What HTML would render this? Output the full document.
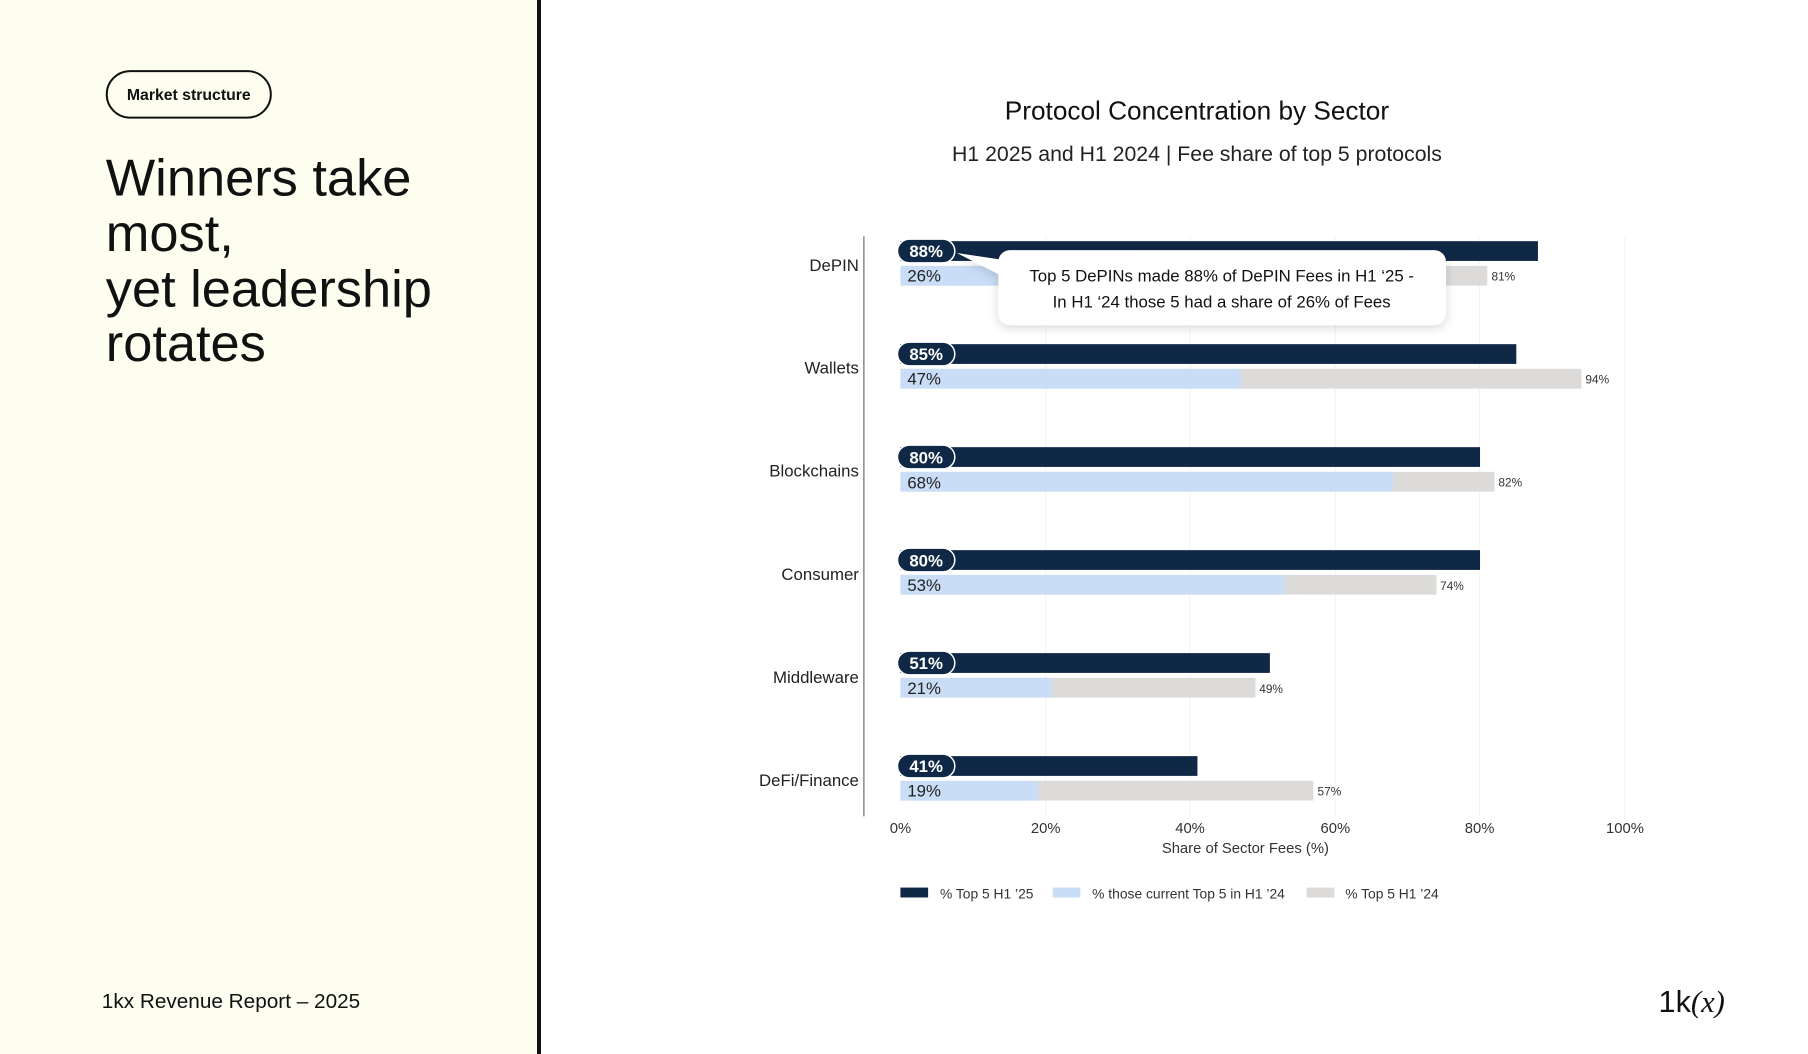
<!DOCTYPE html>
<html><head><meta charset="utf-8"><style>
html,body{margin:0;padding:0;background:#fff}
svg{display:block;font-family:"Liberation Sans",sans-serif}
</style></head><body>
<svg width="1808" height="1054" viewBox="0 0 1808 1054" xmlns="http://www.w3.org/2000/svg">
<defs>
<filter id="sh" x="-10%" y="-30%" width="120%" height="170%"><feDropShadow dx="0" dy="3" stdDeviation="5" flood-color="#000" flood-opacity="0.15"/></filter>
</defs>
<rect x="0" y="0" width="540" height="1054" fill="#fefef0"/>
<rect x="537" y="0" width="4" height="1054" fill="#111"/>
<g transform="scale(0.9884)">
<rect x="108" y="72" width="166" height="47" rx="23.5" fill="none" stroke="#111" stroke-width="2"/>
<text x="191" y="101" font-size="16" font-weight="bold" text-anchor="middle" fill="#111">Market structure</text>
<g font-size="53" fill="#111">
<text x="107" y="198">Winners take</text>
<text x="107" y="254">most,</text>
<text x="107" y="310">yet leadership</text>
<text x="107" y="365">rotates</text>
</g>
<text x="103" y="1020" font-size="21" fill="#111">1kx Revenue Report  – 2025</text>
<text x="1678" y="1024" font-size="31" fill="#111">1k<tspan font-style="italic" font-family="Liberation Serif">(x)</tspan></text>

<text x="1211" y="121" font-size="26.5" text-anchor="middle" fill="#111">Protocol Concentration by Sector</text>
<text x="1211" y="163" font-size="21.5" text-anchor="middle" fill="#222">H1 2025 and H1 2024 | Fee share of top 5 protocols</text>

<g stroke="#f2f2f2" stroke-width="1">
<line x1="1058" y1="239" x2="1058" y2="826"/><line x1="1204" y1="239" x2="1204" y2="826"/>
<line x1="1351" y1="239" x2="1351" y2="826"/><line x1="1497" y1="239" x2="1497" y2="826"/>
<line x1="1644" y1="239" x2="1644" y2="826"/>
</g>
<line x1="874" y1="239" x2="874" y2="826" stroke="#888" stroke-width="1.5"/>

<g font-size="17" text-anchor="end" fill="#222">
<text x="869" y="274">DePIN</text><text x="869" y="378">Wallets</text><text x="869" y="482">Blockchains</text>
<text x="869" y="587">Consumer</text><text x="869" y="691">Middleware</text><text x="869" y="795">DeFi/Finance</text>
</g>

<g fill="#dcdbda">
<rect x="911" y="269" width="593.7" height="20"/><rect x="911" y="373.2" width="689" height="20"/>
<rect x="911" y="477.4" width="601.1" height="20"/><rect x="911" y="581.6" width="542.4" height="20"/>
<rect x="911" y="685.8" width="359.2" height="20"/><rect x="911" y="790" width="417.8" height="20"/>
</g>
<g fill="#c9ddf7">
<rect x="911" y="269" width="190.6" height="20"/><rect x="911" y="373.2" width="344.5" height="20"/>
<rect x="911" y="477.4" width="498.4" height="20"/><rect x="911" y="581.6" width="388.5" height="20"/>
<rect x="911" y="685.8" width="153.9" height="20"/><rect x="911" y="790" width="139.3" height="20"/>
</g>
<g font-size="17" fill="#222">
<text x="918" y="285">26%</text><text x="918" y="389">47%</text><text x="918" y="494">68%</text>
<text x="918" y="598">53%</text><text x="918" y="702">21%</text><text x="918" y="806">19%</text>
</g>
<g font-size="12" fill="#333">
<text x="1509" y="284">81%</text><text x="1604" y="388">94%</text><text x="1516" y="492">82%</text>
<text x="1457" y="597">74%</text><text x="1274" y="701">49%</text><text x="1333" y="805">57%</text>
</g>
<g fill="#0f2846">
<rect x="911" y="244" width="645" height="20"/><rect x="911" y="348.2" width="623.1" height="20"/>
<rect x="911" y="452.4" width="586.4" height="20"/><rect x="911" y="556.6" width="586.4" height="20"/>
<rect x="911" y="660.8" width="373.8" height="20"/><rect x="911" y="765" width="300.5" height="20"/>
</g>
<g fill="#0f2846" stroke="#fff" stroke-width="1.5">
<rect x="908" y="242" width="58" height="24" rx="12"/><rect x="908" y="346.2" width="58" height="24" rx="12"/>
<rect x="908" y="450.4" width="58" height="24" rx="12"/><rect x="908" y="554.6" width="58" height="24" rx="12"/>
<rect x="908" y="658.8" width="58" height="24" rx="12"/><rect x="908" y="763" width="58" height="24" rx="12"/>
</g>
<g font-size="17" font-weight="bold" text-anchor="middle" fill="#fff">
<text x="937" y="260">88%</text><text x="937" y="364">85%</text><text x="937" y="469">80%</text>
<text x="937" y="573">80%</text><text x="937" y="677">51%</text><text x="937" y="781">41%</text>
</g>

<g filter="url(#sh)"><path d="M968 256 L1035 266 L1035 290 Z" fill="#fff"/><rect x="1010" y="253" width="453" height="76" rx="12" fill="#fff"/></g>
<text x="1236" y="285" font-size="17" text-anchor="middle" fill="#111">Top 5 DePINs made 88% of DePIN Fees in H1 ‘25 -</text>
<text x="1236" y="311" font-size="17" text-anchor="middle" fill="#111">In H1 ‘24 those 5 had a share of 26% of Fees</text>

<g font-size="15" fill="#333" text-anchor="middle">
<text x="911" y="843">0%</text><text x="1058" y="843">20%</text><text x="1204" y="843">40%</text>
<text x="1351" y="843">60%</text><text x="1497" y="843">80%</text><text x="1644" y="843">100%</text>
<text x="1260" y="863">Share of Sector Fees (%)</text>
</g>

<g font-size="14" fill="#333">
<rect x="911" y="898" width="28" height="10" fill="#0f2846"/><text x="951" y="909">% Top 5 H1 ’25</text>
<rect x="1065" y="898" width="28" height="10" fill="#c9ddf7"/><text x="1105" y="909">% those current Top 5 in H1 ’24</text>
<rect x="1322" y="898" width="28" height="10" fill="#dcdbda"/><text x="1361" y="909">% Top 5 H1 ’24</text>
</g>
</g>
</svg>
</body></html>
